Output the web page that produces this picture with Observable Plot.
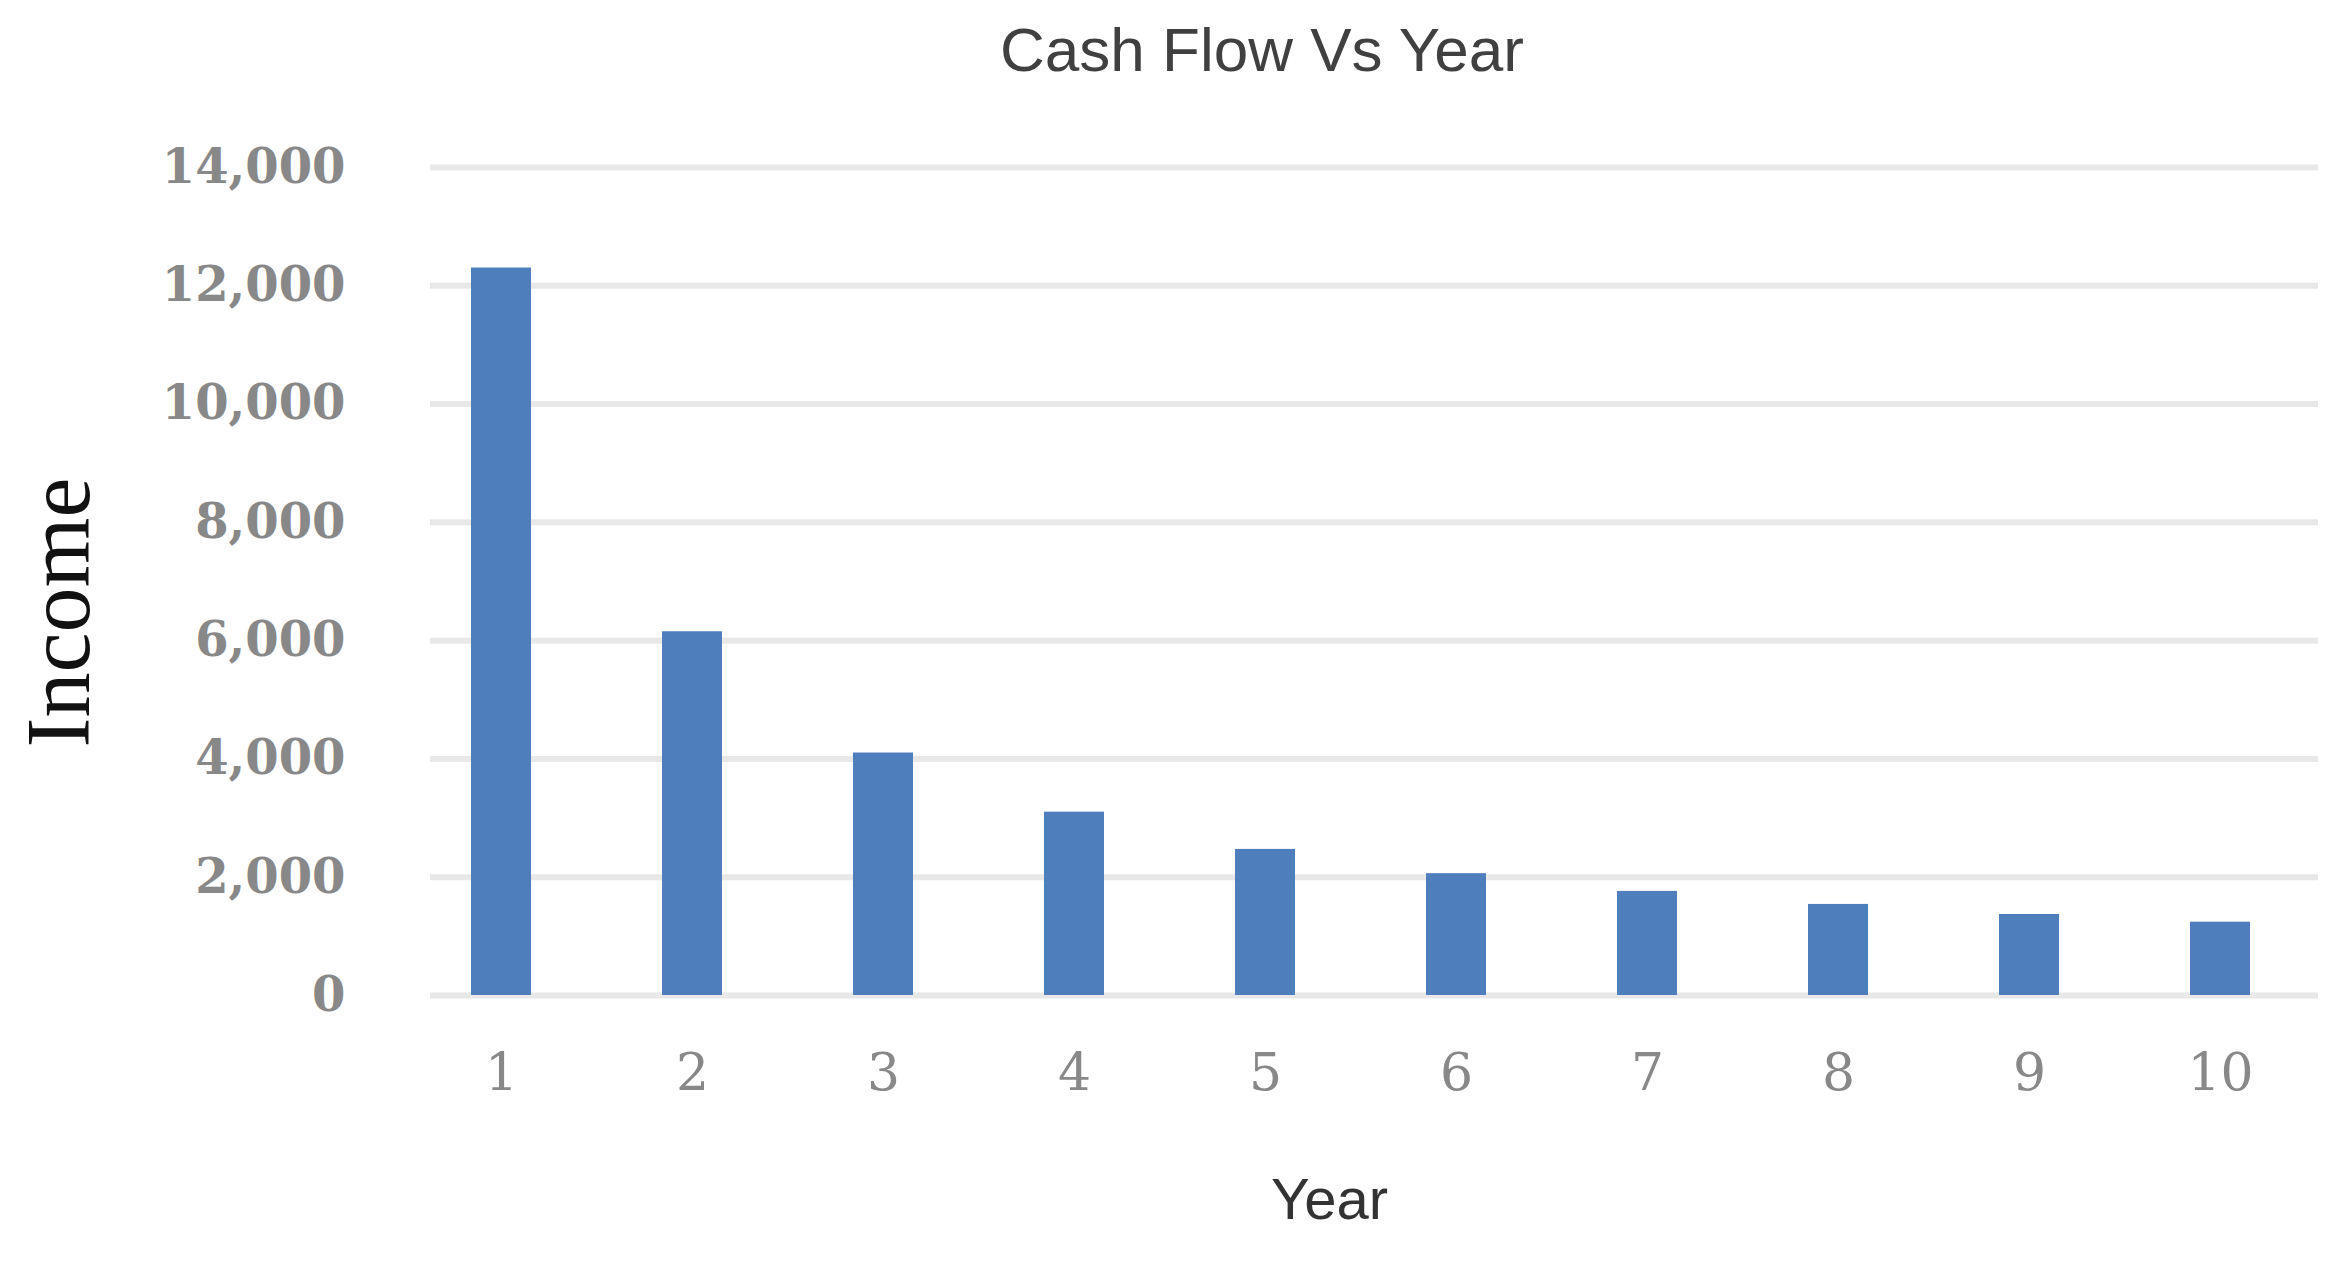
<!DOCTYPE html>
<html>
<head>
<meta charset="utf-8">
<script src="https://cdn.jsdelivr.net/npm/d3@7"></script>
<script src="https://cdn.jsdelivr.net/npm/@observablehq/plot@0.6"></script>
<style>
  html, body { margin: 0; padding: 0; background: #ffffff; }
  #title {
    box-sizing: border-box;
    width: 2352px; height: 105px; line-height: 100px;
    padding-left: 172px; text-align: center;
    font-family: "Liberation Sans", Arial, sans-serif; font-size: 62px; color: #404040;
  }
</style>
</head>
<body>
<div id="title">Cash Flow Vs Year</div>
<div id="chart"></div>
<script>
const years = [1, 2, 3, 4, 5, 6, 7, 8, 9, 10];
const income = [12300, 6150, 4100, 3100, 2470, 2060, 1760, 1540, 1370, 1240];
const yTicks = [0, 2000, 4000, 6000, 8000, 10000, 12000, 14000];
const yLabel = "Income";
const xLabel = "Year";

const data = years.map((y, i) => ({year: y, income: income[i]}));

const chart = Plot.plot({
  width: 2352,
  height: 1161,
  marginLeft: 430,
  marginRight: 34,
  marginTop: 62,
  marginBottom: 271,
  style: {background: "#ffffff", fontFamily: "DejaVu Serif"},
  x: {type: "band", domain: years, paddingInner: 0.686, paddingOuter: 0.28, align: 0.374, axis: null},
  y: {domain: [0, 14000], axis: null},
  marks: [
    Plot.ruleY(yTicks, {stroke: "#e8e8e8", strokeWidth: 6}),
    Plot.barY(data, {x: "year", y: "income", fill: "#4e7fbc"}),
    Plot.axisY({ticks: yTicks, tickSize: 0, tickPadding: 85, tickFormat: d3.format(","), fontSize: 48, fontWeight: "bold", color: "#888888", label: null}),
    Plot.axisX({tickSize: 0, tickPadding: 58, fontSize: 52, color: "#888888", label: null}),
    Plot.text([yLabel], {text: d => d, frameAnchor: "left", textAnchor: "middle", lineAnchor: "middle", rotate: -90, dx: -370, dy: 31, fontSize: 90, fontFamily: "Liberation Serif", fill: "#111111"}),
    Plot.text([xLabel], {text: d => d, frameAnchor: "bottom", textAnchor: "middle", lineAnchor: "middle", dx: -45, dy: 205, fontSize: 58, fontFamily: "Liberation Sans", fill: "#333333"})
  ]
});
document.getElementById("chart").appendChild(chart);
</script>
</body>
</html>
